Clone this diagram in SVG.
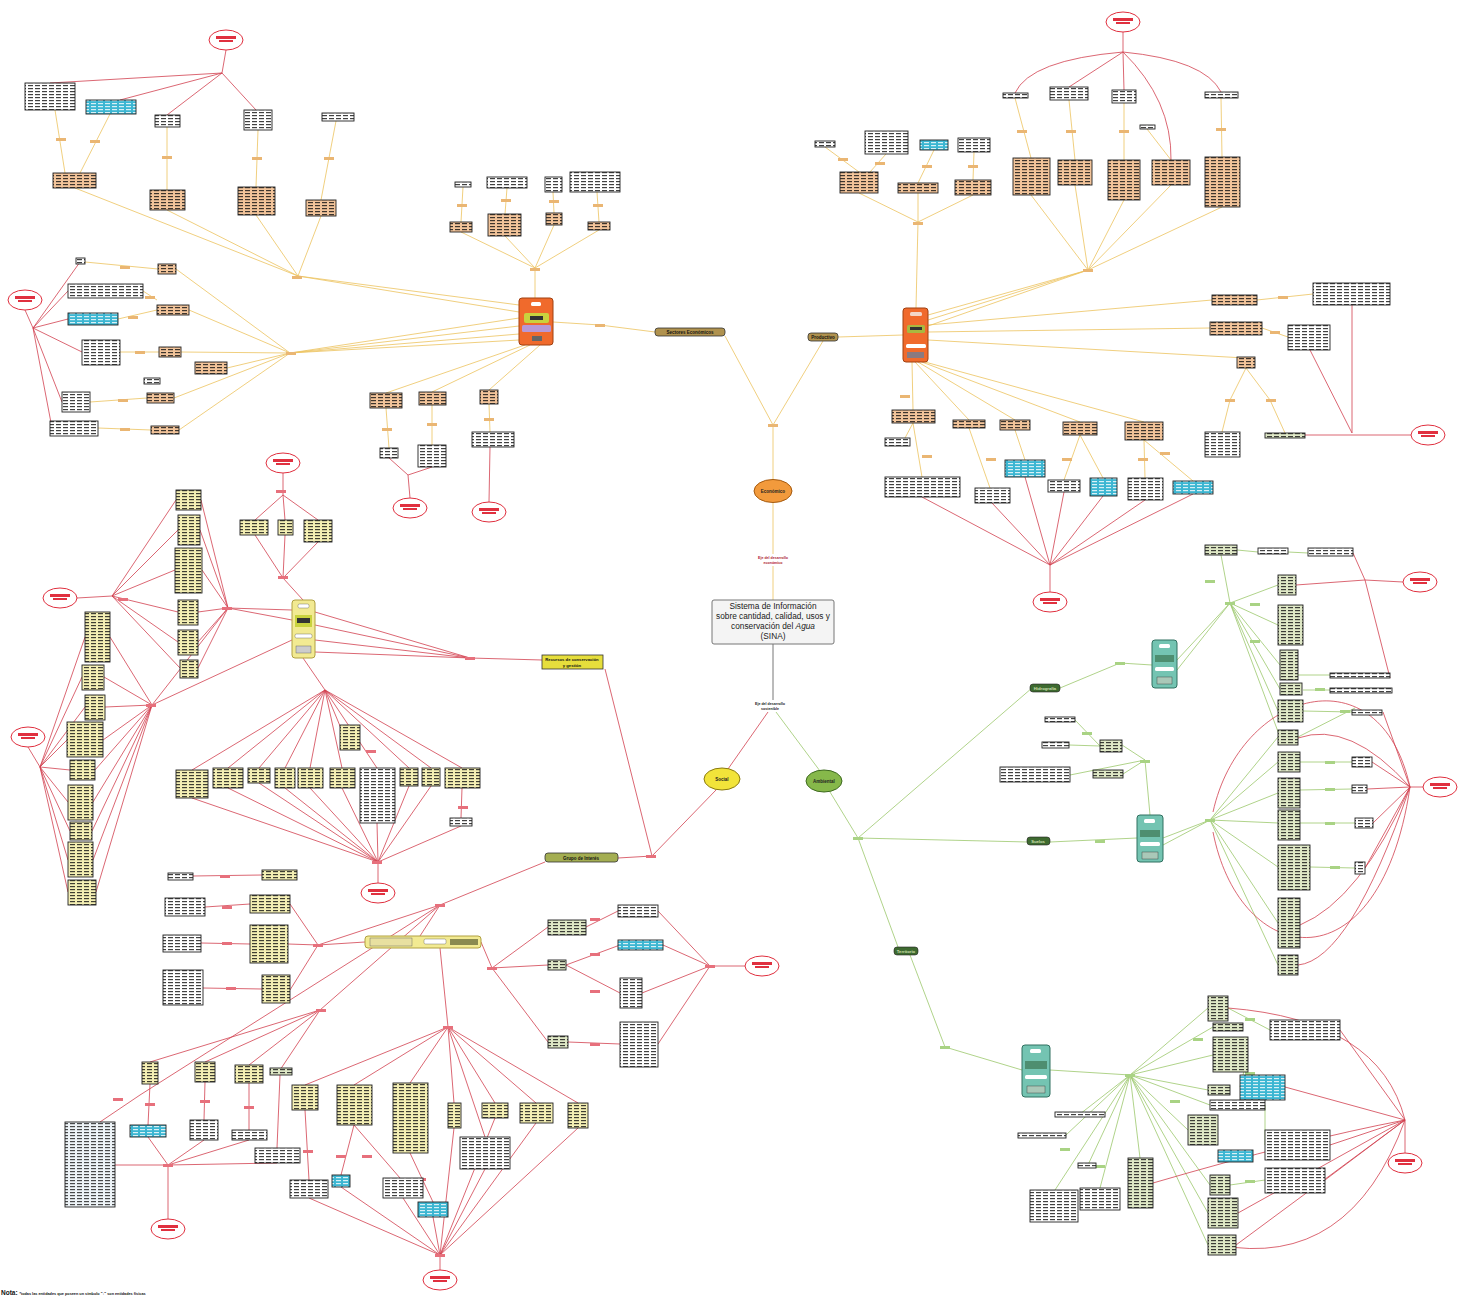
<svg xmlns="http://www.w3.org/2000/svg" width="1469" height="1301" viewBox="0 0 1469 1301">
<style>
.ly{stroke:#ecc35e;stroke-width:.8;fill:none}
.lr{stroke:#d2404f;stroke-width:.8;fill:none}
.lg{stroke:#9cc86c;stroke-width:.8;fill:none}
.lk{stroke:#666;stroke-width:.9;fill:none}
.b{stroke:#222;stroke-width:.9}
.o{fill:url(#po)}.w{fill:url(#pw)}.c{fill:url(#pc)}.y{fill:url(#py)}.g{fill:url(#pg)}.s{fill:url(#ps)}
.mt{fill:#eab673}.mg{fill:#a9d384}.mr{fill:#e7707c}
.t{font-family:"Liberation Sans",Arial,sans-serif;text-anchor:middle}
</style>
<defs>
<pattern id="po" width="7" height="3" patternUnits="userSpaceOnUse"><rect width="7" height="3" fill="#f2c49a"/><rect y="1" width="5" height="1.2" fill="#111" fill-opacity=".8"/></pattern>
<pattern id="pw" width="7" height="3" patternUnits="userSpaceOnUse"><rect width="7" height="3" fill="#fff"/><rect y="1" width="5" height="1.2" fill="#111" fill-opacity=".8"/></pattern>
<pattern id="pc" width="7" height="3" patternUnits="userSpaceOnUse"><rect width="7" height="3" fill="#3cb6d2"/><rect y="1" width="5" height="1.2" fill="#fff" fill-opacity=".8"/></pattern>
<pattern id="py" width="7" height="3" patternUnits="userSpaceOnUse"><rect width="7" height="3" fill="#f4efb4"/><rect y="1" width="5" height="1.2" fill="#111" fill-opacity=".8"/></pattern>
<pattern id="pg" width="7" height="3" patternUnits="userSpaceOnUse"><rect width="7" height="3" fill="#dfe8c6"/><rect y="1" width="5" height="1.2" fill="#111" fill-opacity=".8"/></pattern>
<pattern id="ps" width="7" height="3" patternUnits="userSpaceOnUse"><rect width="7" height="3" fill="#eef4f8"/><rect y="1" width="5" height="1.2" fill="#111" fill-opacity=".75"/></pattern>
<g id="re"><ellipse rx="17" ry="10" fill="#fff" stroke="#e0303f" stroke-width="1"/><rect x="-10" y="-4" width="20" height="3" fill="#e0303f"/><rect x="-7" y="0" width="14" height="2" fill="#e0303f"/></g>
</defs>
<rect width="1469" height="1301" fill="#fff"/>

<g id="connectors">
<path class="ly" d="M773,600 L773,503 M773,480 L773,425 M773,425 L725,336 M773,425 L823,341 M553,322 L600,325 L655,332 M838,337 L903,335"/>
<path class="lk" d="M773,644 L773,700"/>
<path class="lr" d="M768,712 L728,769 M716,790 L652,856 M605,669 L652,856 M618,858 L652,856"/>
<path class="lg" d="M776,712 L820,771 M830,792 L858,838"/>
<path class="ly" d="M519,305 L298,276 M519,312 L298,276 M519,318 L290,353 M519,326 L290,353 M519,334 L290,353 M519,340 L290,353
M535,298 L535,268 M535,268 L461,232 M535,268 L505,236 M535,268 L554,225 M535,268 L599,230
M461,222 L463,187 M505,214 L507,188 M554,213 L553,192 M599,222 L597,192
M525,345 L386,393 M530,345 L432,392 M540,345 L489,390 M386,408 L389,448 M432,405 L432,445 M489,404 L490,432
M298,276 L75,188 M298,276 L167,210 M298,276 L256,215 M298,276 L321,216
M65,173 L55,110 M80,173 L110,114 M167,190 L167,127 M256,187 L258,130 M321,200 L336,121
M290,353 L176,269 M290,353 L189,310 M290,353 L181,352 M290,353 L227,368 M290,353 L174,398 M290,353 L179,430
M158,269 L85,262 M157,300 L143,291 M157,310 L118,319 M159,352 L120,352 M147,398 L90,402 M151,430 L98,428"/>
<path class="lr" d="M226,50 L222,73 M222,73 L50,83 M222,73 L120,100 M222,73 L167,115 M222,73 L256,110
M25,310 L33,328 M33,328 L80,262 M33,328 L68,291 M33,328 L68,319 M33,328 L82,352 M33,328 L62,402 M33,328 L52,428
M389,458 L408,475 M432,467 L408,475 M408,475 L410,498 M490,447 L489,502"/>
<path class="ly" d="M916,308 L918,222 M918,222 L859,193 M918,222 L918,193 M918,222 L973,195
M859,172 L825,147 M870,172 L886,154 M918,183 L934,150 M973,180 L974,152
M928,315 L1088,270 M928,320 L1088,270 M928,326 L1088,270 M1088,270 L1031,195 M1088,270 L1075,185 M1088,270 L1124,200 M1088,270 L1171,185 M1088,270 L1222,207
M1031,158 L1015,98 M1075,160 L1069,100 M1124,160 L1124,103 M1171,160 L1147,129 M1222,157 L1221,98
M928,325 L1212,300 M928,332 L1210,328 M928,340 L1245,358 M1257,300 L1313,294 M1262,328 L1288,337 M1246,368 L1230,400 L1222,432 M1246,368 L1270,400 L1285,433
M912,362 L913,410 M915,362 L969,420 M918,362 L1015,420 M922,362 L1080,422 M925,362 L1144,422
M913,423 L905,438 M913,423 L922,477 M969,428 L990,488 M1015,430 L1025,460 M1080,435 L1064,480 M1080,435 L1103,478 M1144,440 L1145,478 M1144,440 L1193,481"/>
<path class="lr" d="M1123,32 L1123,52 M1123,52 Q1030,60 1015,93 M1123,52 L1069,87 M1123,52 L1124,90 M1123,52 Q1205,60 1221,92 M1123,52 Q1172,100 1171,160
M1352,305 L1352,433 M1310,350 L1352,433 M1305,435 L1411,435
M922,497 L1050,565 M992,503 L1050,565 M1025,477 L1050,565 M1064,492 L1050,565 M1103,496 L1050,565 M1145,500 L1050,565 M1193,494 L1050,565 M1050,565 L1050,592"/>
<path class="lr" d="M542,660 L470,658 M470,658 L315,612 M470,658 L315,625 M470,658 L315,640 M470,658 L315,652
M303,600 L283,578 M283,578 L255,535 M283,578 L285,535 M283,578 L318,542 M283,473 L283,495 M283,495 L255,520 M283,495 L285,520 M283,495 L318,520
M292,610 L228,608 M292,620 L228,608 M228,608 L201,500 M228,608 L200,530 M228,608 L202,570 M228,608 L198,612 M228,608 L198,642 M228,608 L198,668 M228,608 L152,705 M292,640 L152,705
M77,598 L112,596 M112,596 L176,500 M112,596 L178,530 M112,596 L175,570 M112,596 L178,612 M112,596 L178,642 M112,596 L180,668
M152,705 L110,637 M152,705 L104,677 M152,705 L105,707 M152,705 L103,740 M152,705 L95,770 M152,705 L93,802 M152,705 L92,831 M152,705 L93,860 M152,705 L96,892
M28,747 L40,767 M40,767 L85,637 M40,767 L82,677 M40,767 L85,707 M40,767 L67,740 M40,767 L70,770 M40,767 L68,802 M40,767 L70,831 M40,767 L68,860 M40,767 L68,892
M303,658 L325,690 M325,690 L192,770 M325,690 L228,768 M325,690 L259,768 M325,690 L285,768 M325,690 L310,768 M325,690 L342,768 M325,690 L350,750 M325,690 L377,768 M325,690 L409,768 M325,690 L431,768 M325,690 L462,768
M378,883 L378,862 M378,862 L192,798 M378,862 L228,788 M378,862 L259,783 M378,862 L285,788 M378,862 L310,788 M378,862 L342,788 M378,862 L377,823 M378,862 L409,786 M378,862 L431,786 M378,862 L461,826 M462,788 L461,818"/>
<path class="lr" d="M545,862 L440,905 M440,905 L420,936 M440,905 L318,945 M440,905 L320,1010 M440,905 L140,1095
M365,942 L318,945 M318,945 L290,904 M318,945 L288,944 M318,945 L290,990 M262,875 L193,876 M250,904 L205,907 M250,944 L201,943 M262,989 L203,988
M481,942 L492,968 M492,968 L548,927 M492,968 L548,965 M492,968 L548,1042 M586,927 L618,911 M566,965 L620,945 M566,965 L620,993 M568,1042 L620,1044
M658,911 L710,966 M663,945 L710,966 M642,993 L710,966 M658,1044 L710,966 M710,966 L745,966
M440,948 L448,1027 M448,1027 L305,1085 M448,1027 L354,1085 M448,1027 L410,1083 M448,1027 L454,1103 M448,1027 L495,1103 M448,1027 L536,1103 M448,1027 L578,1103 M448,1027 L485,1137
M305,1110 L309,1180 M354,1125 L341,1175 M354,1125 L400,1178 M410,1153 L433,1202
M309,1198 L440,1255 M341,1187 L440,1255 M403,1198 L440,1255 M433,1217 L440,1255 M485,1169 L440,1255 M536,1123 L440,1255 M578,1128 L440,1255 M495,1118 L440,1255 M454,1128 L440,1255 M440,1255 L440,1270
M320,1010 L150,1062 M320,1010 L205,1062 M320,1010 L249,1065 M320,1010 L280,1070 M140,1095 L100,1122
M150,1084 L148,1125 M205,1082 L204,1120 M249,1083 L249,1130 M280,1075 L277,1148
M115,1165 L168,1165 M148,1137 L168,1165 M204,1140 L168,1165 M249,1140 L168,1165 M277,1163 L168,1165 M168,1165 L168,1219"/>
<path class="lg" d="M858,838 L1032,688 M858,838 L1028,842 M858,838 L898,947 M910,955 L945,1047 L1022,1070
M1060,688 L1120,663 L1152,665 M1177,660 L1230,603 M1177,670 L1230,603 M1230,603 L1221,555 M1230,603 L1278,585 M1230,603 L1278,625 M1230,603 L1280,665 M1230,603 L1280,689 M1230,603 L1278,711 M1230,603 L1280,737 M1237,550 L1258,552 M1288,552 L1308,553 M1303,690 L1330,690 M1298,675 L1330,675 M1303,711 L1352,712
M1050,842 L1137,838 M1150,815 L1145,760 M1145,760 L1122,745 M1145,760 L1123,774 M1145,760 L1070,775 M1100,746 L1075,720 M1100,746 L1069,745
M1163,838 L1210,820 M1163,845 L1210,820 M1210,820 L1278,737 M1210,820 L1278,762 M1210,820 L1278,793 M1210,820 L1278,823 M1210,820 L1278,867 M1210,820 L1278,923 M1210,820 L1278,965 M1300,762 L1352,762 M1300,790 L1352,789 M1300,823 L1355,823 M1310,867 L1355,868 M1298,737 L1355,708
M1050,1070 L1130,1075 M1130,1075 L1208,1008 M1130,1075 L1213,1027 M1130,1075 L1213,1055 M1130,1075 L1208,1090 M1130,1075 L1210,1105 M1130,1075 L1188,1130 M1130,1075 L1210,1185 M1130,1075 L1208,1213 M1130,1075 L1208,1245 M1130,1075 L1140,1158 M1130,1075 L1087,1167 M1130,1075 L1055,1190 M1130,1075 L1100,1188 M1130,1075 L1080,1114 M1130,1075 L1066,1135
M1228,1008 L1270,1030 M1248,1055 L1240,1087 M1265,1105 L1265,1145 M1230,1185 L1265,1180"/>
<path class="lr" d="M1353,553 L1365,580 M1296,585 L1365,580 M1390,678 L1365,580 M1365,580 L1403,582
M1410,787 Q1350,720 1298,738 M1410,787 L1372,762 M1410,787 L1367,789 M1410,787 L1373,823 M1410,787 L1365,868 M1410,787 Q1360,900 1300,925 M1410,787 Q1350,960 1298,965 M1410,787 C1380,990 1240,970 1213,832 M1410,787 C1380,650 1240,690 1213,812 M1410,787 L1423,787 M1383,712 L1410,787
M1340,1030 L1405,1120 M1285,1087 L1405,1120 M1330,1145 L1405,1120 M1325,1180 L1405,1120 M1238,1213 L1405,1120 M1236,1245 L1405,1120 M1228,1008 Q1380,1020 1405,1120 M1153,1183 Q1300,1140 1405,1120 M1218,1245 Q1350,1270 1405,1120 M1405,1120 L1405,1153"/>
<g class="mt">
<rect x="56" y="138" width="10" height="3"/><rect x="90" y="140" width="10" height="3"/><rect x="162" y="156" width="10" height="3"/><rect x="252" y="157" width="10" height="3"/><rect x="324" y="157" width="10" height="3"/>
<rect x="457" y="204" width="10" height="3"/><rect x="501" y="199" width="10" height="3"/><rect x="549" y="200" width="10" height="3"/><rect x="593" y="204" width="10" height="3"/>
<rect x="382" y="428" width="10" height="3"/><rect x="427" y="423" width="10" height="3"/><rect x="484" y="418" width="10" height="3"/>
<rect x="120" y="266" width="10" height="3"/><rect x="145" y="296" width="10" height="3"/><rect x="128" y="316" width="10" height="3"/><rect x="135" y="351" width="10" height="3"/><rect x="118" y="399" width="10" height="3"/><rect x="120" y="428" width="10" height="3"/><rect x="292" y="276" width="10" height="3"/><rect x="286" y="352" width="10" height="3"/><rect x="530" y="268" width="10" height="3"/><rect x="595" y="324" width="10" height="3"/><rect x="768" y="424" width="10" height="3"/>
<rect x="838" y="158" width="10" height="3"/><rect x="875" y="162" width="10" height="3"/><rect x="922" y="165" width="10" height="3"/><rect x="968" y="165" width="10" height="3"/><rect x="913" y="222" width="10" height="3"/><rect x="1083" y="269" width="10" height="3"/>
<rect x="1017" y="130" width="10" height="3"/><rect x="1066" y="130" width="10" height="3"/><rect x="1119" y="130" width="10" height="3"/><rect x="1216" y="128" width="10" height="3"/>
<rect x="1278" y="296" width="10" height="3"/><rect x="1270" y="331" width="10" height="3"/><rect x="1225" y="399" width="10" height="3"/><rect x="1266" y="399" width="10" height="3"/>
<rect x="900" y="395" width="10" height="3"/><rect x="922" y="455" width="10" height="3"/><rect x="986" y="458" width="10" height="3"/><rect x="1062" y="458" width="10" height="3"/><rect x="1138" y="458" width="10" height="3"/><rect x="1160" y="452" width="10" height="3"/>
</g>
<g class="mr">
<rect x="118" y="598" width="10" height="3"/><rect x="276" y="490" width="10" height="3"/><rect x="278" y="576" width="10" height="3"/><rect x="222" y="607" width="10" height="3"/><rect x="146" y="704" width="10" height="3"/><rect x="366" y="750" width="10" height="3"/><rect x="458" y="806" width="10" height="3"/><rect x="372" y="861" width="10" height="3"/><rect x="465" y="657" width="10" height="3"/><rect x="646" y="855" width="10" height="3"/>
<rect x="220" y="875" width="10" height="3"/><rect x="222" y="906" width="10" height="3"/><rect x="222" y="942" width="10" height="3"/><rect x="226" y="987" width="10" height="3"/><rect x="313" y="944" width="10" height="3"/><rect x="435" y="904" width="10" height="3"/><rect x="316" y="1009" width="10" height="3"/>
<rect x="590" y="918" width="10" height="3"/><rect x="590" y="953" width="10" height="3"/><rect x="590" y="990" width="10" height="3"/><rect x="590" y="1043" width="10" height="3"/><rect x="487" y="967" width="10" height="3"/><rect x="705" y="965" width="10" height="3"/>
<rect x="303" y="1150" width="10" height="3"/><rect x="336" y="1155" width="10" height="3"/><rect x="362" y="1155" width="10" height="3"/><rect x="416" y="1178" width="10" height="3"/><rect x="443" y="1026" width="10" height="3"/><rect x="435" y="1254" width="10" height="3"/>
<rect x="113" y="1098" width="10" height="3"/><rect x="145" y="1103" width="10" height="3"/><rect x="200" y="1100" width="10" height="3"/><rect x="244" y="1106" width="10" height="3"/><rect x="163" y="1164" width="10" height="3"/>
</g>
<g class="mg">
<rect x="1115" y="662" width="10" height="3"/><rect x="1225" y="602" width="10" height="3"/><rect x="1205" y="580" width="10" height="3"/><rect x="1250" y="603" width="10" height="3"/><rect x="1250" y="640" width="10" height="3"/><rect x="1315" y="688" width="10" height="3"/><rect x="1340" y="710" width="10" height="3"/>
<rect x="1095" y="840" width="10" height="3"/><rect x="1140" y="760" width="10" height="3"/><rect x="1082" y="732" width="10" height="3"/><rect x="1205" y="819" width="10" height="3"/>
<rect x="1325" y="761" width="10" height="3"/><rect x="1325" y="788" width="10" height="3"/><rect x="1325" y="822" width="10" height="3"/><rect x="1330" y="866" width="10" height="3"/>
<rect x="940" y="1046" width="10" height="3"/><rect x="1125" y="1074" width="10" height="3"/><rect x="1245" y="1018" width="10" height="3"/><rect x="1245" y="1072" width="10" height="3"/><rect x="1245" y="1180" width="10" height="3"/><rect x="1060" y="1148" width="10" height="3"/><rect x="1095" y="1165" width="10" height="3"/><rect x="1170" y="1100" width="10" height="3"/><rect x="1193" y="1038" width="10" height="3"/>
<rect x="853" y="837" width="10" height="3"/>
</g>
</g>

<g id="central">
<g id="sina"><rect x="712" y="600" width="122" height="44" fill="#f4f4f4" stroke="#777" stroke-width="1" rx="2"/>
<text class="t" x="773" y="609" font-size="8.3" fill="#1a1a1a">Sistema de Información</text>
<text class="t" x="773" y="619" font-size="8.3" fill="#1a1a1a">sobre cantidad, calidad, usos y</text>
<text class="t" x="773" y="629" font-size="8.3" fill="#1a1a1a">conservación del <tspan font-style="italic">Agua</tspan></text>
<text class="t" x="773" y="639" font-size="8.3" fill="#1a1a1a">(SINA)</text></g>
<g id="eje-eco"><rect x="756" y="554" width="34" height="12" fill="#fff"/><text class="t" x="773" y="559" font-size="3.6" font-weight="bold" fill="#b02030">Eje del desarrollo</text><text class="t" x="773" y="564" font-size="3.6" font-weight="bold" fill="#b02030">económico</text></g>
<g id="eje-sos"><text class="t" x="770" y="705" font-size="3.6" font-weight="bold" fill="#222">Eje del desarrollo</text><text class="t" x="770" y="710" font-size="3.6" font-weight="bold" fill="#222">sostenible</text></g>
<g id="economico"><ellipse cx="773" cy="491" rx="19" ry="11.5" fill="#f29a3c" stroke="#a45a10" stroke-width="1"/><text class="t" x="773" y="493" font-size="4.5" font-weight="bold" fill="#222">Económico</text></g>
<g id="social"><ellipse cx="722" cy="779" rx="18" ry="11" fill="#f2e43a" stroke="#8a7a10" stroke-width="1"/><text class="t" x="722" y="781" font-size="4.5" font-weight="bold" fill="#222">Social</text></g>
<g id="ambiental"><ellipse cx="824" cy="781" rx="18" ry="11" fill="#86b84a" stroke="#3e6a20" stroke-width="1"/><text class="t" x="824" y="783" font-size="4.5" font-weight="bold" fill="#222">Ambiental</text></g>
<g id="sectores"><rect x="655" y="328" width="70" height="8" rx="3" fill="#b0924e" stroke="#333" stroke-width=".8"/><text class="t" x="690" y="334" font-size="4.5" font-weight="bold" fill="#111">Sectores Económicos</text></g>
<g id="productivo"><rect x="808" y="333" width="30" height="8" rx="3" fill="#b0924e" stroke="#333" stroke-width=".8"/><text class="t" x="823" y="339" font-size="4.5" font-weight="bold" fill="#111">Productivo</text></g>
<g id="recursos"><rect x="542" y="655" width="61" height="14" fill="#e6de3c" stroke="#333" stroke-width=".8"/><text class="t" x="572" y="661" font-size="4.2" font-weight="bold" fill="#111">Recursos de conservación</text><text class="t" x="572" y="667" font-size="4.2" font-weight="bold" fill="#111">y gestión</text></g>
<g id="grupo"><rect x="545" y="853" width="73" height="9" rx="3" fill="#a4ae52" stroke="#333" stroke-width=".8"/><text class="t" x="581" y="859.5" font-size="4.5" font-weight="bold" fill="#111">Grupo de Interés</text></g>
<g id="hidro"><rect x="1030" y="684" width="30" height="8" rx="3" fill="#3e6a30" stroke="#222" stroke-width=".6"/><text class="t" x="1045" y="690" font-size="4.2" font-weight="bold" fill="#cfe0b0">Hidrografía</text></g>
<g id="suelos"><rect x="1027" y="837" width="23" height="8" rx="3" fill="#3e6a30" stroke="#222" stroke-width=".6"/><text class="t" x="1038" y="843" font-size="4.2" font-weight="bold" fill="#cfe0b0">Suelos</text></g>
<g id="territorio"><rect x="894" y="947" width="24" height="8" rx="3" fill="#3e6a30" stroke="#222" stroke-width=".6"/><text class="t" x="906" y="953" font-size="4.2" font-weight="bold" fill="#cfe0b0">Territorio</text></g>
</g>

<g id="hubs">
<g id="hub-tl"><rect x="519" y="298" width="34" height="47" rx="3" fill="#f06a2c" stroke="#a04010"/><rect x="531" y="302" width="10" height="4" rx="1.5" fill="#fff"/><rect x="524" y="313" width="25" height="10" rx="2" fill="#c9d23e"/><rect x="530" y="316" width="13" height="4" fill="#333"/><rect x="522" y="325" width="29" height="7" rx="1.5" fill="#b898d6"/><rect x="532" y="336" width="10" height="5" fill="#666"/></g>
<g id="hub-tr"><rect x="903" y="308" width="25" height="54" rx="3" fill="#f06a2c" stroke="#a04010"/><rect x="910" y="312" width="12" height="4" rx="1.5" fill="#f3d6c8"/><rect x="907" y="325" width="18" height="8" rx="1.5" fill="#a8b840"/><rect x="910" y="327" width="12" height="3" fill="#333"/><rect x="906" y="344" width="20" height="4" rx="1.5" fill="#fff"/><rect x="907" y="352" width="17" height="6" fill="#8a7a80"/></g>
<g id="hub-soc"><rect x="292" y="600" width="23" height="58" rx="3" fill="#f2ea92" stroke="#b0a040"/><rect x="298" y="604" width="11" height="4" rx="1.5" fill="#fff" stroke="#555" stroke-width=".4"/><rect x="295" y="615" width="17" height="12" fill="#c9d23e"/><rect x="297" y="618" width="13" height="5" fill="#333"/><rect x="295" y="634" width="17" height="4" rx="1.5" fill="#fff" stroke="#555" stroke-width=".4"/><rect x="296" y="646" width="15" height="7" fill="#ccc" stroke="#555" stroke-width=".4"/></g>
<g id="hub-grp"><rect x="365" y="936" width="116" height="12" rx="3" fill="#f2ea92" stroke="#b0a040"/><rect x="370" y="938" width="42" height="8" fill="#e8e0a0" stroke="#555" stroke-width=".4"/><rect x="424" y="939" width="22" height="5" rx="1.5" fill="#fff" stroke="#555" stroke-width=".4"/><rect x="450" y="939" width="28" height="6" fill="#8a8a50"/></g>
<g id="hub-hid"><rect x="1152" y="640" width="25" height="48" rx="3" fill="#74c4b2" stroke="#307060"/><rect x="1159" y="644" width="11" height="4" rx="1.5" fill="#fff"/><rect x="1155" y="655" width="19" height="7" fill="#4e8e70"/><rect x="1155" y="667" width="19" height="4" rx="1.5" fill="#fff"/><rect x="1157" y="677" width="15" height="7" fill="#aac8b8" stroke="#333" stroke-width=".4"/></g>
<g id="hub-sue"><rect x="1137" y="815" width="26" height="47" rx="3" fill="#74c4b2" stroke="#307060"/><rect x="1144" y="819" width="11" height="4" rx="1.5" fill="#fff"/><rect x="1140" y="830" width="20" height="7" fill="#4e8e70"/><rect x="1140" y="842" width="20" height="4" rx="1.5" fill="#fff"/><rect x="1142" y="852" width="16" height="7" fill="#aac8b8" stroke="#333" stroke-width=".4"/></g>
<g id="hub-ter"><rect x="1022" y="1045" width="28" height="52" rx="3" fill="#74c4b2" stroke="#307060"/><rect x="1030" y="1049" width="11" height="4" rx="1.5" fill="#fff"/><rect x="1025" y="1061" width="22" height="8" fill="#4e8e70"/><rect x="1025" y="1075" width="22" height="4" rx="1.5" fill="#fff"/><rect x="1027" y="1086" width="18" height="7" fill="#aac8b8" stroke="#333" stroke-width=".4"/></g>
</g>

<g id="nodes-tl">
<rect class="b o" x="53" y="173" width="43" height="15"/><rect class="b o" x="150" y="190" width="35" height="20"/><rect class="b o" x="238" y="187" width="37" height="28"/><rect class="b o" x="306" y="200" width="30" height="16"/>
<rect class="b w" x="25" y="83" width="50" height="27"/><rect class="b c" x="86" y="100" width="50" height="14"/><rect class="b w" x="155" y="115" width="25" height="12"/><rect class="b w" x="244" y="110" width="28" height="20"/><rect class="b w" x="322" y="113" width="32" height="8"/>
<rect class="b o" x="450" y="222" width="22" height="10"/><rect class="b o" x="488" y="214" width="33" height="22"/><rect class="b o" x="546" y="213" width="16" height="12"/><rect class="b o" x="588" y="222" width="22" height="8"/>
<rect class="b w" x="455" y="182" width="16" height="5"/><rect class="b w" x="487" y="177" width="40" height="11"/><rect class="b w" x="545" y="177" width="17" height="15"/><rect class="b w" x="570" y="172" width="50" height="20"/>
<rect class="b o" x="370" y="393" width="32" height="15"/><rect class="b o" x="419" y="392" width="27" height="13"/><rect class="b o" x="480" y="390" width="18" height="14"/>
<rect class="b w" x="380" y="448" width="18" height="10"/><rect class="b w" x="418" y="445" width="28" height="22"/><rect class="b w" x="472" y="432" width="42" height="15"/>
<rect class="b o" x="158" y="264" width="18" height="10"/><rect class="b o" x="157" y="305" width="32" height="10"/><rect class="b o" x="159" y="347" width="22" height="10"/><rect class="b o" x="195" y="362" width="32" height="12"/><rect class="b o" x="147" y="393" width="27" height="10"/><rect class="b o" x="151" y="426" width="28" height="8"/>
<rect class="b w" x="76" y="258" width="9" height="6"/><rect class="b w" x="68" y="284" width="75" height="14"/><rect class="b c" x="68" y="313" width="50" height="12"/><rect class="b w" x="82" y="340" width="38" height="25"/><rect class="b w" x="144" y="378" width="16" height="6"/><rect class="b w" x="62" y="392" width="28" height="20"/><rect class="b w" x="50" y="421" width="48" height="15"/>
</g>

<g id="nodes-tr">
<rect class="b o" x="840" y="172" width="38" height="21"/><rect class="b o" x="898" y="183" width="40" height="10"/><rect class="b o" x="955" y="180" width="36" height="15"/>
<rect class="b w" x="815" y="141" width="20" height="6"/><rect class="b w" x="865" y="131" width="43" height="23"/><rect class="b c" x="920" y="140" width="28" height="10"/><rect class="b w" x="958" y="138" width="32" height="14"/>
<rect class="b o" x="1013" y="158" width="37" height="37"/><rect class="b o" x="1058" y="160" width="34" height="25"/><rect class="b o" x="1108" y="160" width="32" height="40"/><rect class="b o" x="1152" y="160" width="38" height="25"/><rect class="b o" x="1205" y="157" width="35" height="50"/>
<rect class="b w" x="1003" y="93" width="25" height="5"/><rect class="b w" x="1050" y="87" width="38" height="13"/><rect class="b w" x="1112" y="90" width="24" height="13"/><rect class="b w" x="1140" y="125" width="15" height="4"/><rect class="b w" x="1205" y="92" width="33" height="6"/>
<rect class="b o" x="1212" y="295" width="45" height="10"/><rect class="b o" x="1210" y="322" width="52" height="13"/><rect class="b o" x="1237" y="357" width="18" height="11"/>
<rect class="b w" x="1313" y="283" width="77" height="22"/><rect class="b w" x="1288" y="325" width="42" height="25"/><rect class="b w" x="1205" y="432" width="35" height="25"/><rect class="b g" x="1265" y="433" width="40" height="5"/>
<rect class="b o" x="892" y="410" width="43" height="13"/><rect class="b o" x="953" y="420" width="32" height="8"/><rect class="b o" x="1000" y="420" width="30" height="10"/><rect class="b o" x="1063" y="422" width="34" height="13"/><rect class="b o" x="1125" y="422" width="38" height="18"/><rect class="b w" x="885" y="438" width="25" height="8"/>
<rect class="b w" x="885" y="477" width="75" height="20"/><rect class="b w" x="975" y="488" width="35" height="15"/><rect class="b c" x="1005" y="460" width="40" height="17"/><rect class="b w" x="1048" y="480" width="32" height="12"/><rect class="b c" x="1090" y="478" width="27" height="18"/><rect class="b w" x="1128" y="478" width="35" height="22"/><rect class="b c" x="1173" y="481" width="40" height="13"/>
</g>

<g id="nodes-soc">
<rect class="b y" x="240" y="520" width="28" height="15"/><rect class="b y" x="278" y="520" width="15" height="15"/><rect class="b y" x="304" y="520" width="28" height="22"/>
<rect class="b y" x="176" y="490" width="25" height="20"/><rect class="b y" x="178" y="515" width="22" height="30"/><rect class="b y" x="175" y="548" width="27" height="45"/><rect class="b y" x="178" y="600" width="20" height="25"/><rect class="b y" x="178" y="630" width="20" height="25"/><rect class="b y" x="180" y="660" width="18" height="18"/>
<rect class="b y" x="85" y="612" width="25" height="50"/><rect class="b y" x="82" y="665" width="22" height="25"/><rect class="b y" x="85" y="695" width="20" height="25"/><rect class="b y" x="67" y="722" width="36" height="35"/><rect class="b y" x="70" y="760" width="25" height="20"/><rect class="b y" x="68" y="785" width="25" height="35"/><rect class="b y" x="70" y="822" width="22" height="18"/><rect class="b y" x="68" y="842" width="25" height="35"/><rect class="b y" x="68" y="880" width="28" height="25"/>
<rect class="b y" x="176" y="770" width="32" height="28"/><rect class="b y" x="213" y="768" width="30" height="20"/><rect class="b y" x="248" y="768" width="22" height="15"/><rect class="b y" x="275" y="768" width="20" height="20"/><rect class="b y" x="298" y="768" width="25" height="20"/><rect class="b y" x="330" y="768" width="25" height="20"/><rect class="b y" x="340" y="725" width="20" height="25"/><rect class="b w" x="360" y="768" width="35" height="55"/><rect class="b y" x="400" y="768" width="18" height="18"/><rect class="b y" x="422" y="768" width="18" height="18"/><rect class="b y" x="445" y="768" width="35" height="20"/><rect class="b w" x="450" y="818" width="22" height="8"/>
</g>

<g id="nodes-grp">
<rect class="b w" x="168" y="873" width="25" height="7"/><rect class="b y" x="262" y="870" width="35" height="10"/><rect class="b w" x="165" y="898" width="40" height="18"/><rect class="b w" x="163" y="935" width="38" height="17"/><rect class="b w" x="163" y="970" width="40" height="35"/>
<rect class="b y" x="250" y="895" width="40" height="18"/><rect class="b y" x="250" y="925" width="38" height="38"/><rect class="b y" x="262" y="975" width="28" height="28"/>
<rect class="b g" x="548" y="920" width="38" height="15"/><rect class="b g" x="548" y="960" width="18" height="10"/><rect class="b g" x="548" y="1036" width="20" height="12"/>
<rect class="b w" x="618" y="905" width="40" height="12"/><rect class="b c" x="618" y="940" width="45" height="10"/><rect class="b w" x="620" y="978" width="22" height="30"/><rect class="b w" x="620" y="1022" width="38" height="45"/>
<rect class="b y" x="292" y="1085" width="26" height="25"/><rect class="b y" x="337" y="1085" width="35" height="40"/><rect class="b y" x="393" y="1083" width="35" height="70"/><rect class="b y" x="448" y="1103" width="13" height="25"/><rect class="b y" x="482" y="1103" width="26" height="15"/><rect class="b y" x="520" y="1103" width="33" height="20"/><rect class="b y" x="568" y="1103" width="20" height="25"/><rect class="b w" x="460" y="1137" width="50" height="32"/>
<rect class="b w" x="290" y="1180" width="38" height="18"/><rect class="b c" x="332" y="1175" width="18" height="12"/><rect class="b w" x="383" y="1178" width="40" height="20"/><rect class="b c" x="418" y="1202" width="30" height="15"/>
<rect class="b y" x="142" y="1062" width="16" height="22"/><rect class="b y" x="195" y="1062" width="20" height="20"/><rect class="b y" x="235" y="1065" width="28" height="18"/><rect class="b g" x="270" y="1068" width="22" height="7"/>
<rect class="b s" x="65" y="1122" width="50" height="85"/><rect class="b c" x="130" y="1125" width="36" height="12"/><rect class="b w" x="190" y="1120" width="28" height="20"/><rect class="b w" x="232" y="1130" width="35" height="10"/><rect class="b w" x="255" y="1148" width="45" height="15"/>
</g>

<g id="nodes-amb">
<rect class="b g" x="1205" y="545" width="32" height="10"/><rect class="b w" x="1258" y="548" width="30" height="6"/><rect class="b w" x="1308" y="548" width="45" height="8"/>
<rect class="b g" x="1278" y="575" width="18" height="20"/><rect class="b g" x="1278" y="605" width="25" height="40"/><rect class="b g" x="1280" y="650" width="18" height="30"/><rect class="b g" x="1280" y="683" width="22" height="12"/><rect class="b g" x="1278" y="700" width="25" height="22"/>
<rect class="b w" x="1330" y="673" width="60" height="5"/><rect class="b w" x="1330" y="688" width="62" height="5"/><rect class="b w" x="1352" y="710" width="30" height="5"/>
<rect class="b w" x="1045" y="717" width="30" height="5"/><rect class="b w" x="1042" y="742" width="27" height="6"/><rect class="b w" x="1000" y="767" width="70" height="15"/><rect class="b g" x="1093" y="770" width="30" height="8"/><rect class="b g" x="1100" y="740" width="22" height="12"/>
<rect class="b g" x="1278" y="730" width="20" height="15"/><rect class="b g" x="1278" y="752" width="22" height="20"/><rect class="b g" x="1278" y="778" width="22" height="30"/><rect class="b g" x="1278" y="810" width="22" height="30"/><rect class="b g" x="1278" y="845" width="32" height="45"/><rect class="b g" x="1278" y="898" width="22" height="50"/><rect class="b g" x="1278" y="955" width="20" height="20"/>
<rect class="b w" x="1352" y="757" width="20" height="10"/><rect class="b w" x="1352" y="785" width="15" height="8"/><rect class="b w" x="1355" y="818" width="18" height="10"/><rect class="b w" x="1355" y="862" width="10" height="12"/>
<rect class="b g" x="1208" y="996" width="20" height="25"/><rect class="b g" x="1213" y="1023" width="30" height="8"/><rect class="b g" x="1213" y="1037" width="35" height="35"/><rect class="b g" x="1208" y="1085" width="22" height="10"/><rect class="b c" x="1240" y="1075" width="45" height="25"/><rect class="b w" x="1270" y="1020" width="70" height="20"/><rect class="b w" x="1210" y="1100" width="55" height="10"/><rect class="b g" x="1188" y="1115" width="30" height="30"/><rect class="b c" x="1218" y="1150" width="35" height="12"/><rect class="b w" x="1265" y="1130" width="65" height="30"/><rect class="b g" x="1210" y="1175" width="20" height="20"/><rect class="b w" x="1265" y="1168" width="60" height="25"/><rect class="b g" x="1208" y="1198" width="30" height="30"/><rect class="b g" x="1208" y="1235" width="28" height="20"/>
<rect class="b g" x="1128" y="1158" width="25" height="50"/><rect class="b w" x="1078" y="1163" width="18" height="5"/><rect class="b w" x="1030" y="1190" width="48" height="32"/><rect class="b w" x="1080" y="1188" width="40" height="22"/><rect class="b w" x="1055" y="1112" width="50" height="5"/><rect class="b w" x="1018" y="1133" width="48" height="5"/>
</g>

<g id="red-nodes">
<use href="#re" x="226" y="40"/><use href="#re" x="25" y="300"/><use href="#re" x="410" y="508"/><use href="#re" x="489" y="512"/><use href="#re" x="1123" y="22"/><use href="#re" x="1428" y="435"/><use href="#re" x="1050" y="602"/><use href="#re" x="283" y="463"/><use href="#re" x="60" y="598"/><use href="#re" x="28" y="737"/><use href="#re" x="378" y="893"/><use href="#re" x="762" y="966"/><use href="#re" x="440" y="1280"/><use href="#re" x="168" y="1229"/><use href="#re" x="1420" y="582"/><use href="#re" x="1440" y="787"/><use href="#re" x="1405" y="1163"/>
</g>

<g id="nota"><text x="1" y="1295" font-family="'Liberation Sans',Arial,sans-serif" font-size="6.5" font-weight="bold" fill="#111">Nota: <tspan font-size="3.8">*todas las entidades que poseen un símbolo "↓" son entidades físicas</tspan></text></g>
</svg>
